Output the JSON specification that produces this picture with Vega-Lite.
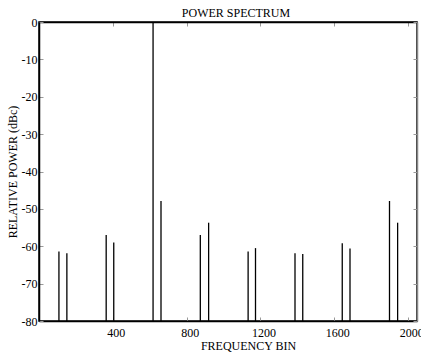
{
  "$schema": "https://vega.github.io/schema/vega-lite/v6.json",
  "width": 378,
  "height": 299,
  "autosize": {"type": "none"},
  "padding": {"left": 39, "top": 22, "right": 4, "bottom": 34},
  "title": {"text": "POWER SPECTRUM", "fontSize": 12, "fontWeight": "normal", "font": "Liberation Serif", "color": "#000", "offset": -4, "dx": 8},
  "config": {
    "font": "Liberation Serif",
    "locale": {"number": {"decimal": ".", "thousands": "", "grouping": [3], "currency": ["$", ""], "minus": "-"}},
    "view": {"stroke": "#000", "strokeWidth": 1.5},
    "axis": {"grid": false, "labelFont": "Liberation Serif", "titleFont": "Liberation Serif", "labelFontSize": 12, "titleFontSize": 12, "titleFontWeight": "normal", "labelColor": "#000", "titleColor": "#000", "domainColor": "#000", "domainWidth": 1.5, "tickColor": "#999", "tickSize": -4, "format": "d"}
  },
  "data": {"values": [
    {"bin": 108, "power": -61.4},
    {"bin": 151, "power": -61.9},
    {"bin": 364, "power": -57.0},
    {"bin": 405, "power": -59.0},
    {"bin": 618, "power": 0},
    {"bin": 661, "power": -47.9},
    {"bin": 874, "power": -57.0},
    {"bin": 919, "power": -53.7},
    {"bin": 1133, "power": -61.4},
    {"bin": 1173, "power": -60.5},
    {"bin": 1387, "power": -61.9},
    {"bin": 1429, "power": -62.1},
    {"bin": 1643, "power": -59.2},
    {"bin": 1685, "power": -60.6},
    {"bin": 1899, "power": -47.9},
    {"bin": 1943, "power": -53.7}
  ]},
  "layer": [
    {
      "mark": {"type": "rule", "color": "#000", "strokeWidth": 1.3},
      "encoding": {
        "x": {"field": "bin", "type": "quantitative", "scale": {"domain": [0, 2048], "nice": false, "zero": false},
              "axis": {"orient": "bottom", "title": "FREQUENCY BIN", "format": "d", "values": [400, 800, 1200, 1600, 2000], "labelPadding": 10, "labelOffset": 3, "labelOverlap": false, "labelBound": false, "titlePadding": 2, "titleX": 209}},
        "y": {"field": "power", "type": "quantitative", "scale": {"domain": [-80, 0], "nice": false},
              "axis": {"orient": "left", "title": "RELATIVE POWER (dBc)", "format": "d", "values": [-80, -70, -60, -50, -40, -30, -20, -10, 0], "labelPadding": 6, "titlePadding": 2}},
        "y2": {"datum": -80}
      }
    },
    {
      "mark": {"type": "rule", "opacity": 0},
      "encoding": {
        "x": {"field": "bin", "type": "quantitative", "scale": {"domain": [0, 2048], "nice": false, "zero": false},
              "axis": {"orient": "top", "title": null, "labels": false, "values": [400, 800, 1200, 1600, 2000]}},
        "y": {"field": "power", "type": "quantitative", "scale": {"domain": [-80, 0], "nice": false},
              "axis": {"orient": "right", "title": null, "labels": false, "domainColor": "#888", "values": [-80, -70, -60, -50, -40, -30, -20, -10, 0]}}
      }
    }
  ],
  "resolve": {"axis": {"x": "independent", "y": "independent"}}
}
